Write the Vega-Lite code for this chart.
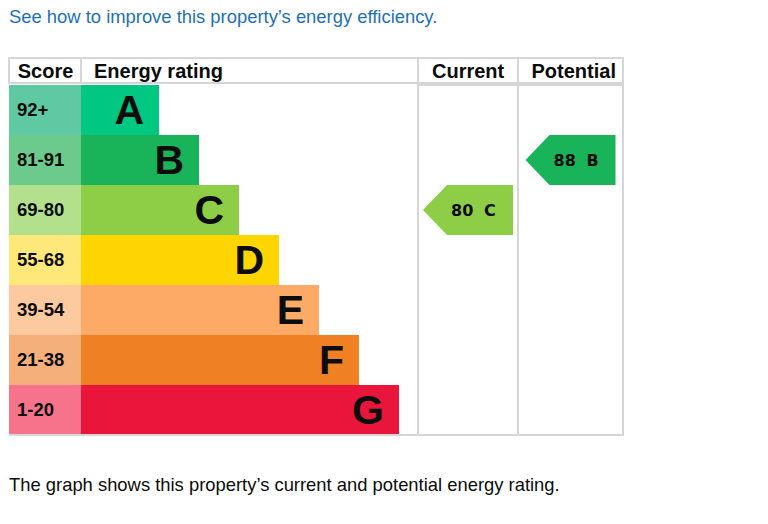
{
  "$schema": "https://vega.github.io/schema/vega-lite/v6.json",
  "padding": {"left": 8, "top": 7, "right": 0, "bottom": 0},
  "background": "white",
  "config": {
    "view": {"stroke": "#d6d6d6", "strokeWidth": 2},
    "font": "Liberation Sans",
    "concat": {"spacing": 0}
  },
  "title": {
    "text": "See how to improve this property’s energy efficiency.",
    "anchor": "start", "frame": "group", "color": "#1d70b8",
    "fontSize": 18.4, "fontWeight": "normal", "font": "Liberation Sans",
    "baseline": "alphabetic", "offset": 16
  },
  "datasets": {
    "bands": [
      {"band": "A", "score": "92+"},
      {"band": "B", "score": "81-91"},
      {"band": "C", "score": "69-80"},
      {"band": "D", "score": "55-68"},
      {"band": "E", "score": "39-54"},
      {"band": "F", "score": "21-38"},
      {"band": "G", "score": "1-20"}
    ],
    "ratings": [
      {"rating": "Current", "score": 80, "band": "C"},
      {"rating": "Potential", "score": 88, "band": "B"}
    ],
    "columns": [
      {"column": "Score"},
      {"column": "Energy rating"},
      {"column": "Current"},
      {"column": "Potential"}
    ]
  },
  "spacing": 0,
  "resolve": {"scale": {"x": "independent", "y": "independent", "color": "independent", "fill": "independent"}},
  "vconcat": [
    {
      "spacing": 0,
      "bounds": "flush",
      "resolve": {"scale": {"x": "independent", "y": "independent", "color": "independent", "fill": "independent"}},
      "hconcat": [
        {
          "width": 72, "height": 25,
          "data": {"name": "columns"},
          "transform": [{"filter": "datum.column === 'Score'"}],
          "mark": {"type": "text", "align": "left", "dx": -27.3, "baseline": "alphabetic", "dy": 7, "fontSize": 20, "fontWeight": "bold", "color": "#0b0c0c"},
          "encoding": {
            "y": {"field": "column", "type": "nominal", "axis": null, "scale": {"type": "band", "paddingInner": 0, "paddingOuter": 0}},
            "text": {"field": "column"}
          }
        },
        {
          "width": 337, "height": 25,
          "data": {"name": "columns"},
          "transform": [{"filter": "datum.column === 'Energy rating'"}],
          "mark": {"type": "text", "align": "left", "dx": -155.5, "baseline": "alphabetic", "dy": 7, "fontSize": 20, "fontWeight": "bold", "color": "#0b0c0c"},
          "encoding": {
            "y": {"field": "column", "type": "nominal", "axis": null, "scale": {"type": "band", "paddingInner": 0, "paddingOuter": 0}},
            "text": {"field": "column"}
          }
        },
        {
          "width": 100, "height": 25,
          "data": {"name": "columns"},
          "transform": [{"filter": "datum.column === 'Current'"}],
          "mark": {"type": "text", "align": "left", "dx": -36, "baseline": "alphabetic", "dy": 7, "fontSize": 20, "fontWeight": "bold", "color": "#0b0c0c"},
          "encoding": {
            "y": {"field": "column", "type": "nominal", "axis": null, "scale": {"type": "band", "paddingInner": 0, "paddingOuter": 0}},
            "text": {"field": "column"}
          }
        },
        {
          "width": 105, "height": 25,
          "data": {"name": "columns"},
          "transform": [{"filter": "datum.column === 'Potential'"}],
          "mark": {"type": "text", "align": "left", "dx": -39, "baseline": "alphabetic", "dy": 7, "fontSize": 20, "fontWeight": "bold", "color": "#0b0c0c"},
          "encoding": {
            "y": {"field": "column", "type": "nominal", "axis": null, "scale": {"type": "band", "paddingInner": 0, "paddingOuter": 0}},
            "text": {"field": "column"}
          }
        }
      ]
    },
    {
      "spacing": 0,
      "bounds": "flush",
      "resolve": {"scale": {"x": "independent", "y": "independent", "color": "independent", "fill": "independent"}},
      "title": {
        "text": "The graph shows this property’s current and potential energy rating.",
        "orient": "bottom", "anchor": "start", "frame": "group", "color": "#0b0c0c",
        "fontSize": 18.4, "fontWeight": "normal", "font": "Liberation Sans",
        "baseline": "top", "offset": 40
      },
      "hconcat": [
        {
          "width": 72, "height": 350,
          "view": {"stroke": null},
          "data": {"name": "bands"},
          "encoding": {
            "y": {"field": "band", "type": "nominal", "sort": null, "axis": null,
                  "scale": {"type": "band", "domain": ["A", "B", "C", "D", "E", "F", "G"], "paddingInner": 0, "paddingOuter": 0}}
          },
          "layer": [
            {
              "mark": {"type": "rect"},
              "encoding": {
                "fill": {"field": "band", "type": "nominal", "legend": null,
                         "scale": {"domain": ["A", "B", "C", "D", "E", "F", "G"],
                                   "range": ["#5fc9a4", "#6ccb8c", "#b3e08c", "#ffe87a", "#fdc99e", "#f5af7b", "#f6738b"]}}
              }
            },
            {
              "mark": {"type": "text", "align": "left", "dx": -28, "baseline": "alphabetic", "dy": 5.5, "fontSize": 18.5, "fontWeight": "bold", "color": "#0b0c0c"},
              "encoding": {"text": {"field": "score"}}
            },
            {
              "mark": {"type": "rule", "color": "#d6d6d6", "strokeWidth": 2},
              "encoding": {"y": {"datum": "G", "bandPosition": 1}}
            }
          ]
        },
        {
          "width": 337, "height": 350,
          "view": {"stroke": null},
          "data": {"name": "bands"},
          "transform": [{"window": [{"op": "row_number", "as": "rank"}], "sort": [{"field": "band"}]}],
          "encoding": {
            "y": {"field": "band", "type": "nominal", "sort": null, "axis": null,
                  "scale": {"type": "band", "domain": ["A", "B", "C", "D", "E", "F", "G"], "paddingInner": 0, "paddingOuter": 0}}
          },
          "layer": [
            {
              "mark": {"type": "rect"},
              "encoding": {
                "x": {"field": "rank", "type": "quantitative", "axis": null,
                      "scale": {"domain": [-0.95, 7.475], "nice": false, "zero": false}},
                "x2": {"datum": -0.95},
                "color": {"field": "band", "type": "nominal", "legend": null,
                          "scale": {"domain": ["A", "B", "C", "D", "E", "F", "G"],
                                    "range": ["#00c781", "#19b459", "#8dce46", "#ffd500", "#fcaa65", "#ef8023", "#e9153b"]}}
              }
            },
            {
              "mark": {"type": "text", "align": "right", "dx": -15, "baseline": "alphabetic", "dy": 14, "fontSize": 41, "fontWeight": "bold", "color": "#0b0c0c"},
              "encoding": {
                "x": {"field": "rank", "type": "quantitative", "axis": null,
                      "scale": {"domain": [-0.95, 7.475], "nice": false, "zero": false}},
                "text": {"field": "band"}
              }
            },
            {
              "mark": {"type": "rule", "color": "#d6d6d6", "strokeWidth": 2},
              "encoding": {"y": {"datum": "G", "bandPosition": 1}}
            }
          ]
        },
        {
          "width": 100, "height": 350,
          "data": {"name": "ratings"},
          "transform": [{"filter": "datum.rating === 'Current'"}],
          "encoding": {
            "y": {"field": "band", "type": "nominal", "axis": null,
                  "scale": {"type": "band", "domain": ["A", "B", "C", "D", "E", "F", "G"], "paddingInner": 0, "paddingOuter": 0}}
          },
          "layer": [
            {
              "mark": {"type": "point", "filled": true, "opacity": 1, "strokeWidth": 0, "size": 8100,
                       "shape": "M-1,0L-0.4667,-0.5556L1,-0.5556L1,0.5556L-0.4667,0.5556Z"},
              "encoding": {
                "color": {"field": "band", "type": "nominal", "legend": null,
                          "scale": {"domain": ["A", "B", "C", "D", "E", "F", "G"],
                                    "range": ["#00c781", "#19b459", "#8dce46", "#ffd500", "#fcaa65", "#ef8023", "#e9153b"]}}
              }
            },
            {
              "mark": {"type": "text", "align": "left", "dx": -17, "baseline": "alphabetic", "dy": 6, "fontSize": 16, "fontWeight": "bold", "font": "DejaVu Sans", "color": "#0b0c0c"},
              "encoding": {"text": {"field": "score", "type": "quantitative"}}
            },
            {
              "mark": {"type": "text", "align": "left", "dx": 16, "baseline": "alphabetic", "dy": 6, "fontSize": 16, "fontWeight": "bold", "font": "DejaVu Sans", "color": "#0b0c0c"},
              "encoding": {"text": {"field": "band"}}
            }
          ]
        },
        {
          "width": 105, "height": 350,
          "data": {"name": "ratings"},
          "transform": [{"filter": "datum.rating === 'Potential'"}],
          "encoding": {
            "y": {"field": "band", "type": "nominal", "axis": null,
                  "scale": {"type": "band", "domain": ["A", "B", "C", "D", "E", "F", "G"], "paddingInner": 0, "paddingOuter": 0}}
          },
          "layer": [
            {
              "mark": {"type": "point", "filled": true, "opacity": 1, "strokeWidth": 0, "size": 8100,
                       "shape": "M-1,0L-0.4667,-0.5556L1,-0.5556L1,0.5556L-0.4667,0.5556Z"},
              "encoding": {
                "color": {"field": "band", "type": "nominal", "legend": null,
                          "scale": {"domain": ["A", "B", "C", "D", "E", "F", "G"],
                                    "range": ["#00c781", "#19b459", "#8dce46", "#ffd500", "#fcaa65", "#ef8023", "#e9153b"]}}
              }
            },
            {
              "mark": {"type": "text", "align": "left", "dx": -17, "baseline": "alphabetic", "dy": 6, "fontSize": 16, "fontWeight": "bold", "font": "DejaVu Sans", "color": "#0b0c0c"},
              "encoding": {"text": {"field": "score", "type": "quantitative"}}
            },
            {
              "mark": {"type": "text", "align": "left", "dx": 16, "baseline": "alphabetic", "dy": 6, "fontSize": 16, "fontWeight": "bold", "font": "DejaVu Sans", "color": "#0b0c0c"},
              "encoding": {"text": {"field": "band"}}
            }
          ]
        }
      ]
    }
  ]
}
